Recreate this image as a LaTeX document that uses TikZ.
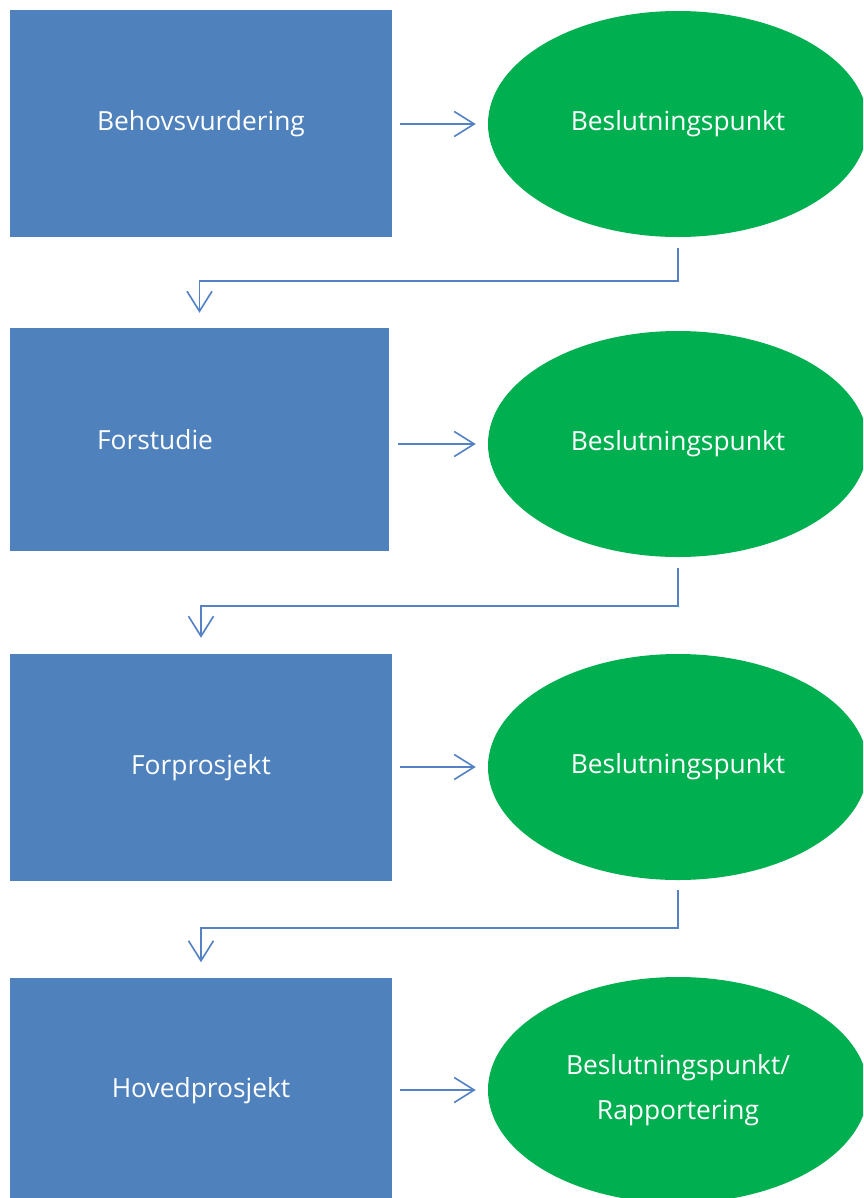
\documentclass[tikz,border=0pt]{standalone}
\usepackage{fontspec}
\setmainfont{Open Sans}
\usetikzlibrary{shapes.geometric,arrows.meta}
\definecolor{fase}{RGB}{79,129,189}
\definecolor{beslutt}{RGB}{0,176,80}
\definecolor{pil}{RGB}{84,130,196}
\tikzset{
  fasebox/.style={fill=fase, minimum width=11.46cm, minimum height=6.81cm, inner sep=0pt},
  punkt/.style={ellipse, fill=beslutt, minimum width=11.4cm, minimum height=6.78cm, inner sep=0pt, text=white, align=center, font=\fontsize{22.5}{38}\selectfont},
  fasetekst/.style={text=white, font=\fontsize{22.5}{27}\selectfont},
  pil/.style={draw=pil, line width=1.4pt, -{Straight Barb[length=0.6cm, width=0.75cm, line width=1.4pt]}}
}

\begin{document}
\begin{tikzpicture}[x=0.03cm, y=-0.03cm]
\clip (0,0) rectangle (863,1198);
\useasboundingbox (0,0) rectangle (863,1198);

% faser
\node [fasebox, fasetekst] (b1) at (201,123.5) {Behovsvurdering};
\node [fasebox, minimum width=11.37cm, minimum height=6.69cm] (b2) at (199.5,439.5) {};
\node [fasetekst] (t2) at (155,440) {Forstudie};
\node [fasebox, fasetekst] (b3) at (201,767.5) {Forprosjekt};
\node [fasebox, fasetekst] (b4) at (201,1091) {Hovedprosjekt};

% beslutningspunkter
\node [punkt] (e1) at (678,124) {Beslutningspunkt};
\node [punkt] (e2) at (678,444) {Beslutningspunkt};
\node [punkt] (e3) at (678,767) {Beslutningspunkt};
\node [punkt] (e4) at (678,1090) {Beslutningspunkt/\\Rapportering};

% piler
\draw [pil] ([xshift=8*0.03cm]b1.east |- e1.west) -- ([xshift=-12*0.03cm]e1.west);
\draw [pil] ([xshift=9*0.03cm]b2.east |- e2.west) -- ([xshift=-12*0.03cm]e2.west);
\draw [pil] ([xshift=8*0.03cm]b3.east |- e3.west) -- ([xshift=-12*0.03cm]e3.west);
\draw [pil] ([xshift=8*0.03cm]b4.east |- e4.west) -- ([xshift=-12*0.03cm]e4.west);

\draw [pil] ([yshift=-11*0.03cm]e1.south) -- ++(0,33) -| ([yshift=15*0.03cm]b2.north);
\draw [pil] ([yshift=-11*0.03cm]e2.south) -- ++(0,38) -| ([yshift=16*0.03cm]b3.north);
\draw [pil] ([yshift=-10*0.03cm]e3.south) -- ++(0,38) -| ([yshift=15*0.03cm]b4.north);

\end{tikzpicture}
\end{document}
